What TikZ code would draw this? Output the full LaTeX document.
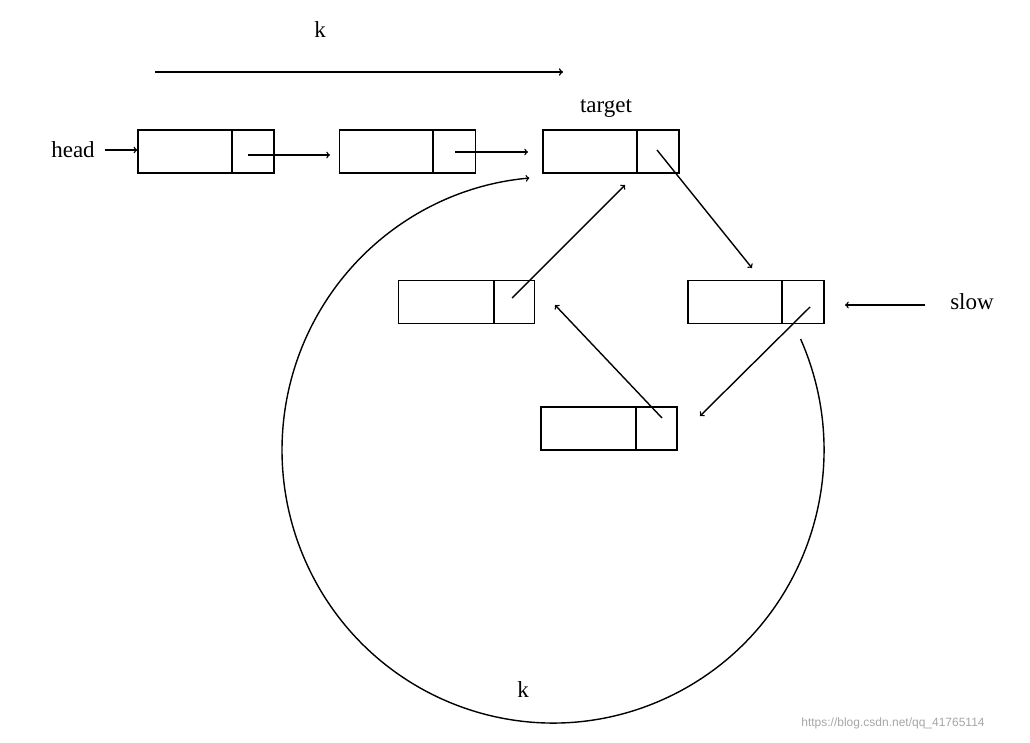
\documentclass[tikz,border=0pt]{standalone}
\usepackage{fontspec}
\setmainfont{Liberation Serif}
\setsansfont{Liberation Sans}
\begin{document}
\begin{tikzpicture}[x=1pt,y=-1pt,line width=1.4pt,
  lbl/.style={font=\fontsize{23}{25}\selectfont,inner sep=0pt},
  arr/.style={->},
  cell/.style={draw,minimum width=136pt,minimum height=43pt,inner sep=0pt}]
\useasboundingbox (0,0) rectangle (1030,742);
\node[cell] (b1) at (206,151.5) {};
\node[cell] (b2) at (407.5,151.5) {};
\node[cell] (b3) at (611,151.5) {};
\node[cell] (b4) at (466.5,302) {};
\node[cell] (b5) at (756,302) {};
\node[cell] (b6) at (609,428.5) {};
\draw (232,130) -- (232,173);
\draw (433,130) -- (433,173);
\draw (637,130) -- (637,173);
\draw (494,281) -- (494,323);
\draw (782,281) -- (782,323);
\draw (636,407) -- (636,450);
\node[lbl] (k1) at (320,30) {k};
\coordinate (ka) at (155,72); \coordinate (kb) at (563,72);
\draw[arr,line width=1.6pt] (ka) -- (kb);
\node[lbl] (head) at (73,150) {head};
\coordinate (h1) at (105,150);
\draw[arr] (h1) -- (h1 -| b1.west);
\coordinate (p1) at (248,155); \coordinate (p2) at (330,155);
\draw[arr] (p1) -- (p2);
\coordinate (p3) at (455,152); \coordinate (p4) at (528,152);
\draw[arr] (p3) -- (p4);
\node[lbl] (tg) at (606,109) {target};
\coordinate (a1) at (657,150); \coordinate (a2) at (752,268);
\draw[arr] (a1) -- (a2);
\coordinate (a3) at (810,307); \coordinate (a4) at (700,416);
\draw[arr] (a3) -- (a4);
\coordinate (a5) at (662,418); \coordinate (a6) at (555,305);
\draw[arr] (a5) -- (a6);
\coordinate (a7) at (512,298); \coordinate (a8) at (625,185);
\draw[arr] (a7) -- (a8);
\node[lbl] (slow) at (972,302) {slow};
\coordinate (s1) at (925,305);
\draw[arr] (s1) -- (845,305);
\draw[arr] (553,450) ++(-24:271 and 273) arc[start angle=-24,end angle=265,x radius=271,y radius=273];
\node[lbl] (k2) at (523,690) {k};
\node[font=\sffamily\fontsize{12}{14}\selectfont,text=gray!70,inner sep=0pt] (wm) at (893,723) {https://blog.csdn.net/qq\_41765114};
\end{tikzpicture}
\end{document}
